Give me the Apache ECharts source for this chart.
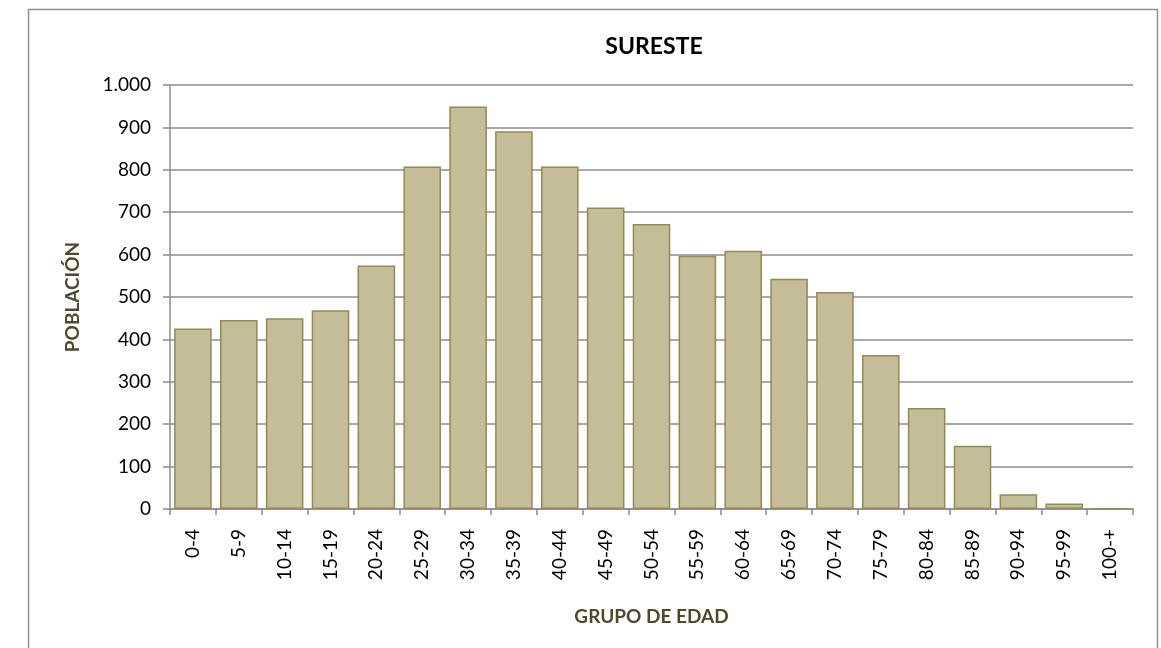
<!DOCTYPE html>
<html>
<head>
<meta charset="utf-8">
<script src="https://cdn.jsdelivr.net/npm/echarts@6/dist/echarts.min.js"></script>
<style>
  html, body { margin: 0; padding: 0; background: #fff; }
  #chart { width: 1161px; height: 648px; }
</style>
</head>
<body>
<div id="chart"></div>
<script>
const categories = ['0-4', '5-9', '10-14', '15-19', '20-24', '25-29', '30-34', '35-39', '40-44', '45-49',
  '50-54', '55-59', '60-64', '65-69', '70-74', '75-79', '80-84', '85-89', '90-94', '95-99', '100-+']
const poblacion = [426, 446, 450, 469, 574, 808, 949, 891, 808, 711,
  672, 597, 609, 543, 512, 363, 238, 149, 35, 13, 1]
const yTicks = [0, 100, 200, 300, 400, 500, 600, 700, 800, 900, 1000]

const chart = echarts.init(document.getElementById('chart'))

const formatNumber = (num) => num.toString().replace(/\B(?=(\d{3})+(?!\d))/g, '.')
const font = 'Lato, "DejaVu Sans", sans-serif'
const nameStyle = {
  fontFamily: font,
  fontWeight: 'bold',
  fontSize: 19,
  color: '#4f4a2b'
}

chart.setOption({
  animation: false,
  graphic: [{
    type: 'rect',
    shape: { x: 28.5, y: 9.5, width: 1129, height: 660 },
    style: { fill: 'none', stroke: '#909090', lineWidth: 1.5 },
    silent: true
  }],
  title: {
    text: 'SURESTE',
    left: 649,
    top: 30,
    textAlign: 'center',
    textStyle: {
      fontFamily: font,
      fontWeight: 'bold',
      fontSize: 23,
      color: '#000'
    }
  },
  grid: {
    left: 170,
    right: 28,
    top: 85,
    bottom: 139,
    containLabel: false
  },
  xAxis: {
    type: 'category',
    data: categories,
    name: 'GRUPO DE EDAD',
    nameLocation: 'middle',
    nameGap: 98,
    nameTextStyle: nameStyle,
    axisLine: { lineStyle: { color: '#8c8c8c', width: 1.5 } },
    axisTick: { show: true, length: 6, lineStyle: { color: '#8c8c8c', width: 1.5 } },
    axisLabel: {
      rotate: 90,
      interval: 0,
      margin: 20,
      fontFamily: font,
      fontSize: 19,
      color: '#000'
    }
  },
  yAxis: {
    type: 'value',
    min: yTicks[0],
    max: yTicks[yTicks.length - 1],
    interval: 100,
    name: 'POBLACIÓN',
    nameLocation: 'middle',
    nameGap: 88,
    nameRotate: 90,
    nameTextStyle: nameStyle,
    axisLine: { show: true, lineStyle: { color: '#8c8c8c', width: 1.5 } },
    axisTick: { show: true, length: 7, lineStyle: { color: '#8c8c8c', width: 1.5 } },
    axisLabel: {
      margin: 19,
      fontFamily: font,
      fontSize: 19,
      color: '#000',
      formatter: (value) => formatNumber(value)
    },
    splitLine: { lineStyle: { color: '#8c8c8c', width: 1.5 } }
  },
  series: [{
    name: 'POBLACIÓN',
    type: 'bar',
    data: poblacion,
    barCategoryGap: '18%',
    itemStyle: {
      color: '#c4bd97',
      borderColor: '#948a54',
      borderWidth: 1.5
    }
  }]
})
</script>
</body>
</html>
